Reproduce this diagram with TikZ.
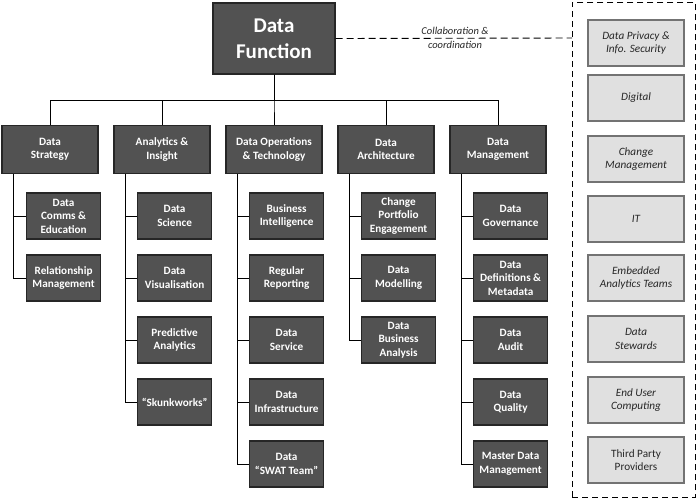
\documentclass[tikz,border=0pt]{standalone}
\usepackage{fontspec}
\setmainfont{Carlito}
\begin{document}
\begin{tikzpicture}[x=1pt,y=-1pt,
  dk/.style={draw=black!85,line width=1.2pt,fill=black!68,text=white,font=\bfseries\fontsize{11.2}{13.5}\selectfont,align=center,inner sep=1pt},
  lt/.style={draw=black!55,line width=1.2pt,fill=black!12,text=black!85,font=\itshape\fontsize{11.2}{13.5}\selectfont,align=center,minimum width=96pt,minimum height=46pt,inner sep=1pt},
  ln/.style={line width=0.9pt}]
\useasboundingbox (0,0) rectangle (700,499);
\node[dk,minimum width=122pt,minimum height=71pt,font=\bfseries\fontsize{21}{26}\selectfont] (top) at (274,38.5) {Data\\Function};
\foreach \n/\x/\t in {c1/50/{Data\\Strategy},c2/162/{Analytics \&\\Insight},c3/274/{Data Operations\\\& Technology},c4/386/{Data\\Architecture},c5/498/{Data\\Management}}{
  \node[dk,minimum width=96pt,minimum height=48pt] (\n) at (\x,149.5) {\t};
  \draw[ln] (top.south) -- (274,100) -| (\n.north);
}
\newcommand\kid[4]{% name, column-left, y, text
  \node[dk,minimum width=74pt,minimum height=46pt,anchor=west] (#1) at (#2+24,#3) {#4};}
\kid{a1}{2}{216}{Data\\Comms \&\\Education}
\kid{a2}{2}{278}{Relationship\\Management}
\kid{b1}{113}{216}{Data\\Science}
\kid{b2}{113}{278}{Data\\Visualisation}
\kid{b3}{113}{340}{Predictive\\Analytics}
\kid{b4}{113}{402}{“Skunkworks”}
\kid{d1}{225}{216}{Business\\Intelligence}
\kid{d2}{225}{278}{Regular\\Reporting}
\kid{d3}{225}{340}{Data\\Service}
\kid{d4}{225}{402}{Data\\Infrastructure}
\kid{d5}{225}{464}{Data\\“SWAT Team”}
\kid{e1}{337}{216}{Change\\Portfolio\\Engagement}
\kid{e2}{337}{278}{Data\\Modelling}
\kid{e3}{337}{340}{Data\\Business\\Analysis}
\kid{f1}{449}{216}{Data\\Governance}
\kid{f2}{449}{278}{Data\\Definitions \&\\Metadata}
\kid{f3}{449}{340}{Data\\Audit}
\kid{f4}{449}{402}{Data\\Quality}
\kid{f5}{449}{464}{Master Data\\Management}
\foreach \p/\l in {c1/{a1,a2},c2/{b1,b2,b3,b4},c3/{d1,d2,d3,d4,d5},c4/{e1,e2,e3},c5/{f1,f2,f3,f4,f5}}{
  \foreach \k in \l {\draw[ln] ([xshift=12pt]\p.south west) |- (\k.west);}
}
\node[draw,dash pattern=on 6pt off 4pt,line width=0.9pt,minimum width=123pt,minimum height=495pt,anchor=north west] (panel) at (572,2) {};
\foreach \n/\y/\t in {r1/43/{Data Privacy \&\\Info. Security},r2/98/{Digital},r3/159/{Change\\Management},r4/219/{IT},r5/278/{Embedded\\Analytics Teams},r6/339/{Data\\Stewards},r7/400/{End User\\Computing}}{
  \node[lt] (\n) at (636,\y) {\t};
}
\node[lt,font=\fontsize{11.2}{13.5}\selectfont] (r8) at (636,460) {Third Party\\Providers};
\coordinate (pl) at (572,38);
\draw[ln,dash pattern=on 7pt off 4pt] (top.east) -- (pl);
\node[font=\itshape\fontsize{10.5}{14}\selectfont,align=center,text=black!85] (lab) at (455,38) {Collaboration \&\\coordination};
\end{tikzpicture}
\end{document}
